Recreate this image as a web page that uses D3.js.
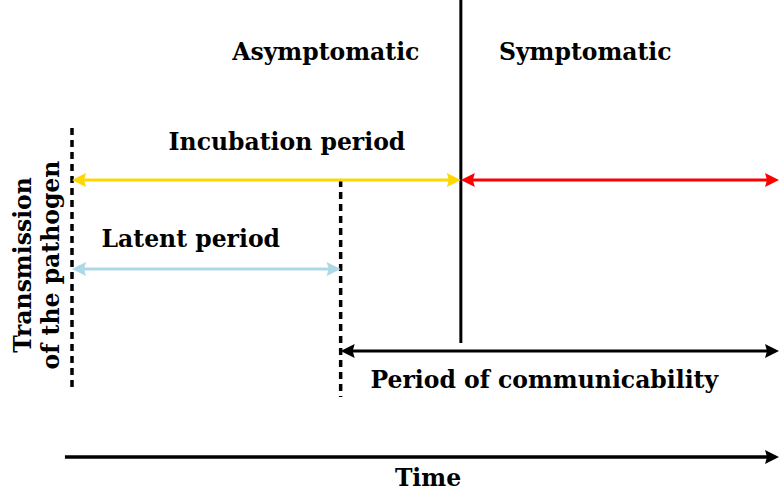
<!DOCTYPE html>
<html>
<head>
<meta charset="utf-8">
<script src="https://cdn.jsdelivr.net/npm/d3@7"></script>
<style>
  body { margin: 0; background: #fff; }
  text { font-family: "DejaVu Serif", "Liberation Serif", serif; font-weight: bold; fill: #000; }
</style>
</head>
<body>
<svg width="779" height="493"></svg>
<script>
// event times (arbitrary time units)
const infection = 0;
const infectiousStart = 38;
const symptomOnset = 55;
const endTime = 100;
const timeStart = -1;

const periods = [
  { name: "Incubation period", row: "incubation", from: infection, to: symptomOnset, color: "#FFD700", labelAt: 30.4 },
  { name: "", row: "incubation", from: symptomOnset, to: endTime, color: "#FF0000" },
  { name: "Latent period", row: "latent", from: infection, to: infectiousStart, color: "#ADD8E6", labelAt: 16.8 },
  { name: "Period of communicability", row: "communicability", from: infectiousStart, to: endTime, color: "#000000", labelAt: 66.8 }
];

const phases = [
  { name: "Asymptomatic", at: 35.9 },
  { name: "Symptomatic", at: 72.6 }
];

const svg = d3.select("svg");

const x = d3.scaleLinear().domain([infection, endTime]).range([72, 779]);
const rowY = { phase: 60, incubation: 180, latent: 269, communicability: 351, time: 457 };

function arrowHead(px, py, dir, color) {
  // dir: +1 points right, -1 points left
  const len = 14, half = 7;
  svg.append("path")
    .attr("d", `M${px},${py} L${px - dir * len},${py - half} L${px - dir * len + dir * 2},${py} L${px - dir * len},${py + half} Z`)
    .attr("fill", color);
}

// dashed lines
svg.append("line")
  .attr("x1", x(infection)).attr("x2", x(infection))
  .attr("y1", 128).attr("y2", 390)
  .attr("stroke", "#000").attr("stroke-width", 3.5)
  .attr("stroke-dasharray", "7,5");

svg.append("line")
  .attr("x1", x(infectiousStart)).attr("x2", x(infectiousStart))
  .attr("y1", 180).attr("y2", 397)
  .attr("stroke", "#000").attr("stroke-width", 3.5)
  .attr("stroke-dasharray", "7,5");

// symptom onset line
svg.append("line")
  .attr("x1", x(symptomOnset)).attr("x2", x(symptomOnset))
  .attr("y1", 0).attr("y2", 343)
  .attr("stroke", "#000").attr("stroke-width", 3);

// period arrows
periods.forEach(p => {
  const yy = rowY[p.row];
  const x1 = x(p.from), x2 = x(p.to);
  svg.append("line")
    .attr("x1", x1 + 8).attr("x2", x2 - 8)
    .attr("y1", yy).attr("y2", yy)
    .attr("stroke", p.color).attr("stroke-width", 3);
  arrowHead(x1, yy, -1, p.color);
  arrowHead(x2, yy, 1, p.color);
});

// period labels
const labelOffset = { incubation: -30, latent: -22, communicability: 37 };
periods.filter(p => p.name).forEach(p => {
  svg.append("text")
    .attr("x", x(p.labelAt))
    .attr("y", rowY[p.row] + labelOffset[p.row])
    .attr("text-anchor", "middle")
    .attr("font-size", 23.5)
    .text(p.name);
});

// phase labels
phases.forEach(p => {
  svg.append("text")
    .attr("x", x(p.at))
    .attr("y", rowY.phase)
    .attr("text-anchor", "middle")
    .attr("font-size", 23.5)
    .text(p.name);
});

// time axis
svg.append("line")
  .attr("x1", x(timeStart)).attr("x2", x(endTime) - 8)
  .attr("y1", rowY.time).attr("y2", rowY.time)
  .attr("stroke", "#000").attr("stroke-width", 3.5);
arrowHead(x(endTime), rowY.time, 1, "#000");

svg.append("text")
  .attr("x", 428).attr("y", 486)
  .attr("text-anchor", "middle")
  .attr("font-size", 23.5)
  .text("Time");

// y label
const ylab = svg.append("text")
  .attr("transform", "translate(0,265) rotate(-90)")
  .attr("text-anchor", "middle")
  .attr("font-size", 23.5);
ylab.append("tspan").attr("x", 0).attr("y", 31).text("Transmission");
ylab.append("tspan").attr("x", 0).attr("y", 59).text("of the pathogen");
</script>
</body>
</html>
